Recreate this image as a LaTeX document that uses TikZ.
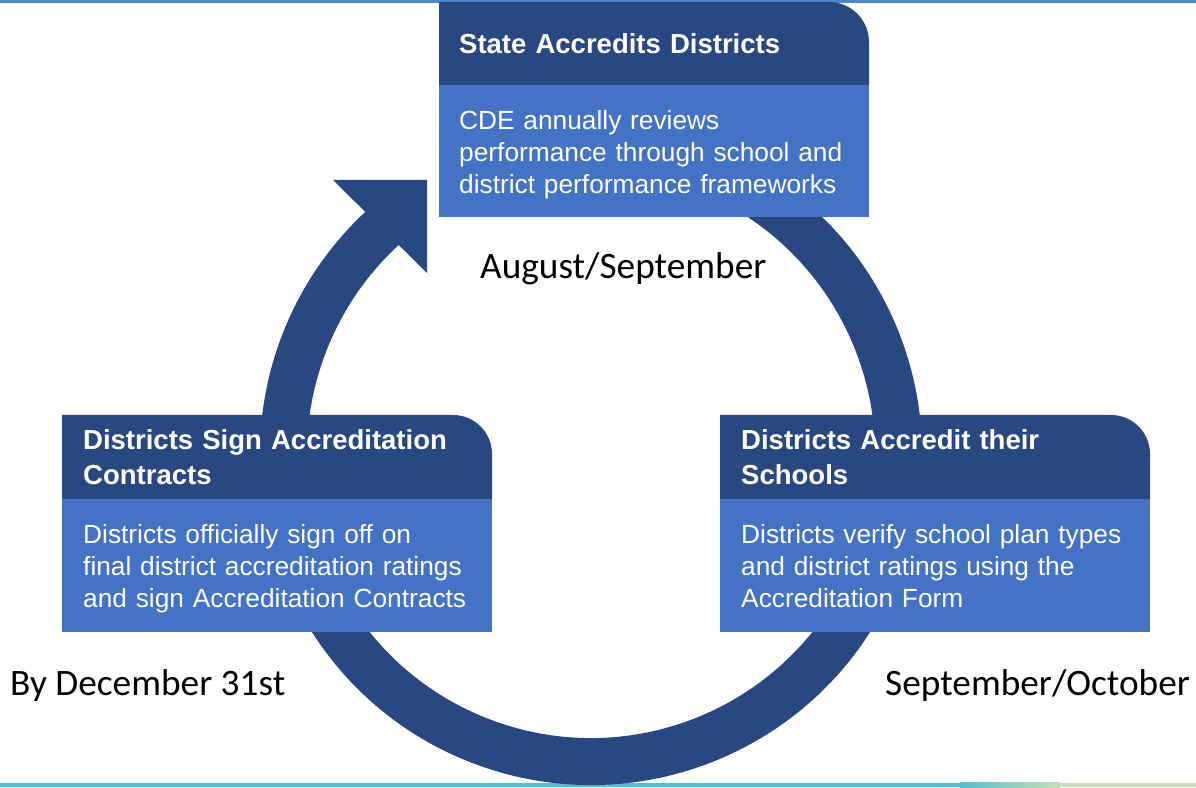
\documentclass[tikz,border=0pt]{standalone}
\usepackage{fontspec}
\setmainfont{Liberation Sans}
\newfontfamily\calib{Carlito}
\definecolor{navy}{RGB}{41,71,128}
\definecolor{lblue}{RGB}{68,114,196}
\definecolor{topline}{RGB}{74,137,201}
\definecolor{stripteal}{RGB}{86,190,207}
\definecolor{stripgreen}{RGB}{197,225,181}
\begin{document}
\begin{tikzpicture}[x=1pt,y=1pt,
  hdrtext/.style={anchor=base west, text=white, font=\fontsize{27.5}{35}\selectfont\bfseries, align=left, text width=410pt, inner sep=0pt},
  bodytext/.style={anchor=base west, text=white, font=\fontsize{26.3}{31.8}\selectfont, align=left, text width=410pt, inner sep=0pt},
  month/.style={font=\calib\fontsize{37.3}{40}\selectfont, inner sep=0pt, text=black},
  hdrfill/.style={fill=navy},
  bodyfill/.style={fill=lblue}
]
\useasboundingbox (0,0) rectangle (1196,787);
% page strips
\fill[topline] (0,783.5) rectangle (1196,787);
\fill[stripteal] (0,0) rectangle (960,4.5);
\shade[left color=stripteal,right color=stripgreen] (960,0) rectangle (1060,4.5);
\fill[stripgreen] (1060,0) rectangle (1196,4.5);
% cycle ring with arrow
\coordinate (c) at (591,333);
\draw[navy, line width=47pt] (c) ++(70:307.5) arc[start angle=70, end angle=-229, radius=307.5];
\coordinate (ah1) at (333,607);
\coordinate (ah2) at (427,607);
\coordinate (ah3) at (427,514);
\fill[navy] (ah1) -- (ah2) -- (ah3) -- cycle;
% top box
\fill[hdrfill] (439,702) -- (439,785) -- (829,785) arc[start angle=90, end angle=0, radius=40] -- (869,702) -- cycle;
\fill[bodyfill] (439,570) rectangle (869,702);
\node[hdrtext] (t1) at (459,733.5) {State Accredits Districts};
\node[bodytext] (b1) at (459,657) {CDE annually reviews\\performance through school and\\district performance frameworks};
% left box
\fill[hdrfill] (62,288) -- (62,372) -- (453,372) arc[start angle=90, end angle=0, radius=39] -- (492,288) -- cycle;
\fill[bodyfill] (62,155) rectangle (492,288);
\node[hdrtext] (t2) at (83,337) {Districts Sign Accreditation\\Contracts};
\node[bodytext] (b2) at (83,243) {Districts officially sign off on\\final district accreditation ratings\\and sign Accreditation Contracts};
% right box
\fill[hdrfill] (720,288) -- (720,372) -- (1111,372) arc[start angle=90, end angle=0, radius=39] -- (1150,288) -- cycle;
\fill[bodyfill] (720,155) rectangle (1150,288);
\node[hdrtext] (t3) at (741,337) {Districts Accredit their\\Schools};
\node[bodytext] (b3) at (741,243) {Districts verify school plan types\\and district ratings using the\\Accreditation Form};
% month labels
\node[month, anchor=base west] (m1) at (480,508) {August/September};
\node[month, anchor=base west] (m2) at (10,92) {By December 31st};
\node[month, anchor=base east] (m3) at (1190,92) {September/October};
\end{tikzpicture}
\end{document}
